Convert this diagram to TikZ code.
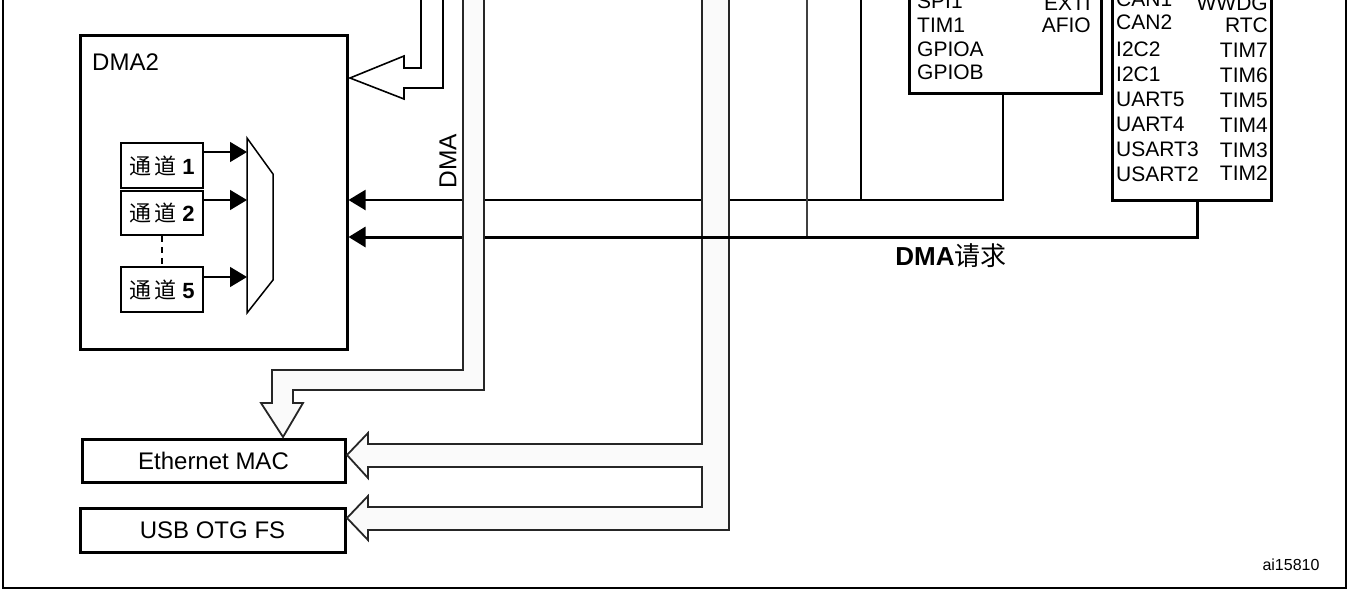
\documentclass[tikz,border=0pt]{standalone}
\usepackage{fontspec}
\setmainfont{Liberation Sans}
\newfontfamily\cjk{Noto Sans CJK SC}
\usetikzlibrary{arrows.meta}
\begin{document}
\begin{tikzpicture}[x=1pt,y=-1pt,
  thickbox/.style={draw,line width=3pt,inner sep=0pt},
  thinbox/.style={draw,line width=1.5pt,inner sep=0pt},
  hollow/.style={draw,line width=1.6pt,fill=white,line join=miter},
  bus/.style={draw=black!85,line width=1.8pt,fill=black!2,line join=miter},
  req/.style={line width=2pt},
  reqthick/.style={line width=3pt},
  tip/.style={-{Triangle[length=17pt,width=20pt]}},
  lbl/.style={inner sep=0pt,font=\fontsize{24}{28}\selectfont},
  per/.style={inner sep=0pt,font=\fontsize{21}{24}\selectfont},
  chan/.style={inner sep=0pt,font=\fontsize{22}{26}\selectfont}]
\path[use as bounding box] (0,0) rectangle (1352,592);
\clip (0,0) rectangle (1352,592);

% outer frame
\draw[line width=2pt] (3,-10) -- (3,588) -- (1346,588) -- (1346,-10);

% DMA2 block
\node[thickbox,minimum width=267pt,minimum height=314pt] (dma2) at (213.5,192) {};
\node[lbl,anchor=west] (dma2lbl) at (92,62) {DMA2};
\node[thinbox,minimum width=82pt,minimum height=45pt] (ch1) at (162,165.5) {};
\node[thinbox,minimum width=82pt,minimum height=44pt] (ch2) at (162,213) {};
\node[thinbox,minimum width=82pt,minimum height=45pt] (ch5) at (162,289.5) {};
\node[chan] (ch1t) at (ch1) {{\cjk 通\hspace{3pt}道}\hspace{6pt}\textbf{1}};
\node[chan] (ch2t) at (ch2) {{\cjk 通\hspace{3pt}道}\hspace{6pt}\textbf{2}};
\node[chan] (ch5t) at (ch5) {{\cjk 通\hspace{3pt}道}\hspace{6pt}\textbf{5}};
\draw[line width=1.5pt,dashed,dash pattern=on 6pt off 5pt] (ch2.south) -- (ch5.north);
\coordinate (muxL) at (247,0);
\draw[line width=1.5pt] (247,138) -- (273,174) -- (273,280) -- (247,313) -- cycle;
\draw[line width=1.5pt,tip] ([yshift=13.5pt]ch1.east) -- ([yshift=13.5pt]ch1.east -| muxL);
\draw[line width=1.5pt,tip] ([yshift=13pt]ch2.east) -- ([yshift=13pt]ch2.east -| muxL);
\draw[line width=1.5pt,tip] ([yshift=12.5pt]ch5.east) -- ([yshift=12.5pt]ch5.east -| muxL);

% Ethernet / USB
\node[thickbox,minimum width=263pt,minimum height=43pt] (eth) at (213.5,460.5) {};
\node[lbl] (etht) at (eth) {Ethernet MAC};
\node[thickbox,minimum width=265pt,minimum height=44pt] (usb) at (212.5,530) {};
\node[lbl] (usbt) at (usb) {USB OTG FS};

% peripheral boxes (cut at top)
\node[thickbox,minimum width=192pt,minimum height=153pt] (per1) at (1005,16.5) {};
\node[per,anchor=west] (p1a) at (917,1) {SPI1};
\node[per,anchor=west] (p1b) at (917,25) {TIM1};
\node[per,anchor=west] (p1c) at (917,49) {GPIOA};
\node[per,anchor=west] (p1d) at (917,72) {GPIOB};
\node[per,anchor=east] (p1e) at (1091,3) {EXTI};
\node[per,anchor=east] (p1f) at (1091,25) {AFIO};

\node[thickbox,minimum width=159pt,minimum height=240pt] (per2) at (1191.5,80) {};
\node[per,anchor=west] (p2a) at (1116,-1) {CAN1};
\node[per,anchor=west] (p2b) at (1116,22) {CAN2};
\node[per,anchor=west] (p2c) at (1116,49) {I2C2};
\node[per,anchor=west] (p2d) at (1116,74) {I2C1};
\node[per,anchor=west] (p2e) at (1116,99) {UART5};
\node[per,anchor=west] (p2f) at (1116,124) {UART4};
\node[per,anchor=west] (p2g) at (1116,149) {USART3};
\node[per,anchor=west] (p2h) at (1116,174) {USART2};
\node[per,anchor=east] (p2i) at (1268,3) {WWDG};
\node[per,anchor=east] (p2j) at (1268,25) {RTC};
\node[per,anchor=east] (p2k) at (1268,50) {TIM7};
\node[per,anchor=east] (p2l) at (1268,75) {TIM6};
\node[per,anchor=east] (p2m) at (1268,100) {TIM5};
\node[per,anchor=east] (p2n) at (1268,125) {TIM4};
\node[per,anchor=east] (p2o) at (1268,150) {TIM3};
\node[per,anchor=east] (p2p) at (1268,173) {TIM2};

% DMA request lines
\coordinate (in1) at (348.5,200);
\coordinate (in2) at (348.5,237);
\coordinate (t861) at (861,-5);
\coordinate (t807) at (807,-5);
\draw[req,tip] ([xshift=-2pt]per1.south) |- (in1);
\draw[req] (t861) -- (t861 |- in1);
\draw[line width=1.5pt,draw=black!75] (t807) -- (t807 |- in2);

% second bus (Ethernet / USB)
\draw[bus] (702,-5) -- (702,444) -- (368,444) -- (368,433) -- (347,455) -- (368,478) -- (368,467)
  -- (702,467) -- (702,507) -- (368,507) -- (368,496) -- (347,518) -- (368,540) -- (368,530)
  -- (729,530) -- (729,-5);

\draw[reqthick,tip] ([xshift=5.5pt]per2.south) |- (in2);

% DMA bus
\draw[bus] (463,-5) -- (463,370) -- (272,370) -- (272,403) -- (261,403) -- (283,437) -- (303,403)
  -- (293,403) -- (293,390) -- (484,390) -- (484,-5);
\node[inner sep=0pt,rotate=90,font=\fontsize{24.5}{28}\selectfont] (dmav) at (448,161) {DMA};

% hollow arrow into DMA2
\draw[hollow] (421,-5) -- (421,68) -- (404,68) -- (404,56) -- (350,78) -- (404,99) -- (404,88)
  -- (443,88) -- (443,-5);

% labels
\node[inner sep=0pt,font=\fontsize{26}{30}\selectfont] (reqlbl) at (951,256) {\textbf{DMA}{\cjk 请求}};
\node[inner sep=0pt,font=\fontsize{16}{18}\selectfont] (ref) at (1291,565) {ai15810};
\end{tikzpicture}
\end{document}
